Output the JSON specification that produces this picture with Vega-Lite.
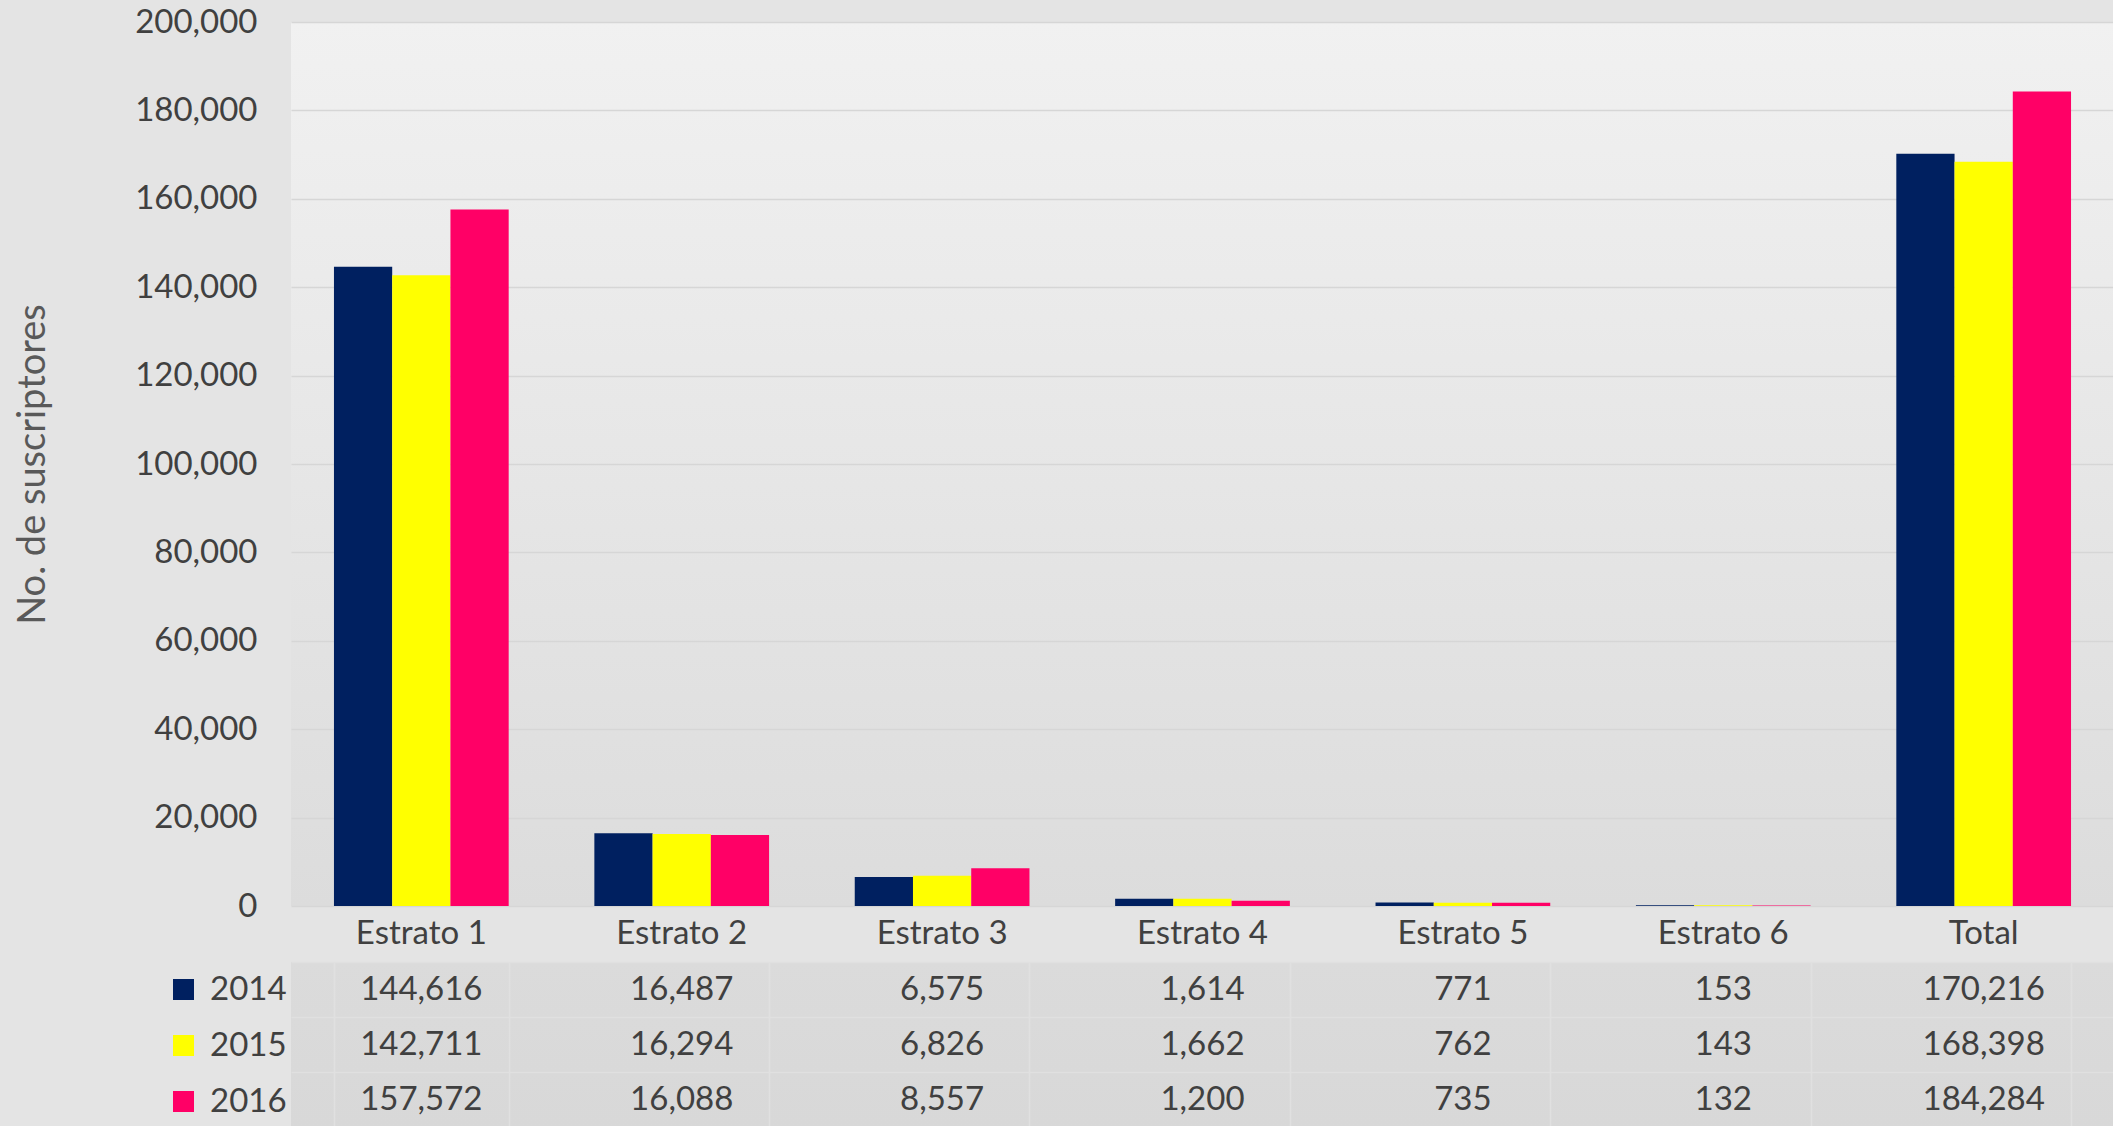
{
  "$schema": "https://vega.github.io/schema/vega-lite/v6.json",
  "padding": {"left": 14, "top": 6, "right": 0, "bottom": 0},
  "background": "#e4e4e4",
  "config": {"font": "Lato", "view": {"stroke": null}},
  "spacing": 12,
  "data": {"values": [
    {"cat": "Estrato 1", "year": "2014", "value": 144616},
    {"cat": "Estrato 1", "year": "2015", "value": 142711},
    {"cat": "Estrato 1", "year": "2016", "value": 157572},
    {"cat": "Estrato 2", "year": "2014", "value": 16487},
    {"cat": "Estrato 2", "year": "2015", "value": 16294},
    {"cat": "Estrato 2", "year": "2016", "value": 16088},
    {"cat": "Estrato 3", "year": "2014", "value": 6575},
    {"cat": "Estrato 3", "year": "2015", "value": 6826},
    {"cat": "Estrato 3", "year": "2016", "value": 8557},
    {"cat": "Estrato 4", "year": "2014", "value": 1614},
    {"cat": "Estrato 4", "year": "2015", "value": 1662},
    {"cat": "Estrato 4", "year": "2016", "value": 1200},
    {"cat": "Estrato 5", "year": "2014", "value": 771},
    {"cat": "Estrato 5", "year": "2015", "value": 762},
    {"cat": "Estrato 5", "year": "2016", "value": 735},
    {"cat": "Estrato 6", "year": "2014", "value": 153},
    {"cat": "Estrato 6", "year": "2015", "value": 143},
    {"cat": "Estrato 6", "year": "2016", "value": 132},
    {"cat": "Total", "year": "2014", "value": 170216},
    {"cat": "Total", "year": "2015", "value": 168398},
    {"cat": "Total", "year": "2016", "value": 184284}
  ]},
  "resolve": {"scale": {"color": "shared"}, "legend": {"color": "independent"}},
  "vconcat": [
    {
      "width": 1823,
      "height": 884,
      "view": {"stroke": null, "fill": {"expr": "{gradient: 'linear', x1: 0, y1: 0, x2: 0, y2: 1, stops: [{offset: 0, color: '#f1f1f1'}, {offset: 1, color: '#dcdcdc'}]}"}},
      "mark": {"type": "bar"},
      "encoding": {
        "x": {
          "field": "cat", "type": "nominal", "sort": null,
          "scale": {"paddingInner": 0.329, "paddingOuter": 0.165},
          "axis": {"title": null, "labelAngle": 0, "labelFontSize": 33, "labelColor": "#404040", "labelPadding": 11, "ticks": false, "domain": false}
        },
        "xOffset": {"field": "year", "type": "nominal", "scale": {"paddingInner": 0, "paddingOuter": 0}},
        "y": {
          "field": "value", "type": "quantitative",
          "scale": {"domain": [0, 200000]},
          "axis": {
            "title": "No. de suscriptores", "titleFontSize": 38, "titleColor": "#595959", "titleFontWeight": "normal", "titlePadding": 82,
            "labelFontSize": 33, "labelColor": "#404040", "labelPadding": 34, "ticks": false, "domain": false,
            "tickCount": 10, "format": ",.0f", "gridColor": "#d6d6d6", "gridWidth": 1.5
          }
        },
        "color": {
          "field": "year", "type": "nominal",
          "scale": {"domain": ["2014", "2015", "2016"], "range": ["#002060", "#FFFF00", "#FF0066"]},
          "legend": null
        }
      }
    },
    {
      "width": 1823,
      "height": 165,
      "view": {"stroke": null, "fill": {"expr": "{gradient: 'linear', x1: 0, y1: 0, x2: 0, y2: 1, stops: [{offset: 0, color: '#dbdbdb'}, {offset: 1, color: '#d8d8d8'}]}"}},
      "encoding": {
        "x": {
          "field": "cat", "type": "nominal", "sort": null,
          "scale": {"paddingInner": 0.329, "paddingOuter": 0.165},
          "axis": {"title": null, "labels": false, "ticks": false, "domain": false, "grid": true, "tickBand": "extent", "gridColor": "#e0e0e0", "gridWidth": 1.5}
        },
        "y": {
          "field": "year", "type": "nominal",
          "scale": {"paddingInner": 0, "paddingOuter": 0},
          "axis": {"title": null, "labels": false, "ticks": false, "domain": false, "grid": true, "tickBand": "extent", "gridColor": "#e0e0e0", "gridWidth": 1.5}
        }
      },
      "layer": [
        {
          "mark": {"type": "square", "opacity": 0, "size": 441, "filled": true},
          "encoding": {
            "color": {
              "field": "year", "type": "nominal",
              "legend": {
                "title": null, "orient": "left", "symbolType": "square", "symbolSize": 441, "symbolStrokeWidth": 0,
                "labelFontSize": 33, "labelColor": "#404040", "labelOffset": 10, "rowPadding": 22, "padding": 11, "offset": -7
              }
            }
          }
        },
        {
          "mark": {"type": "text", "fontSize": 33, "color": "#404040"},
          "encoding": {"text": {"field": "value", "type": "quantitative", "format": ","}}
        }
      ]
    }
  ]
}
